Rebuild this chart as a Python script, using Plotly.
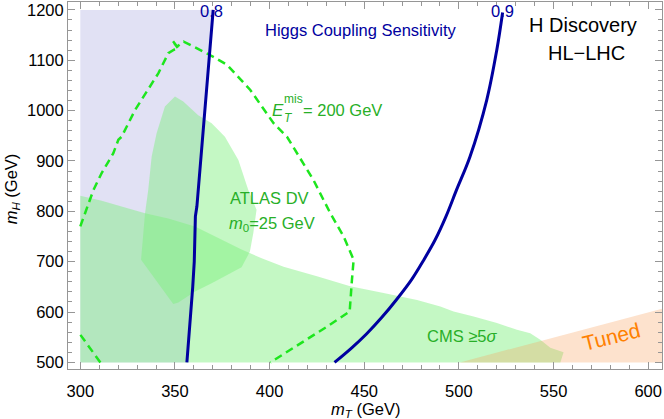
from plotly import graph_objects as go

# contour lines of Higgs coupling sensitivity
c08_x = [356.3, 357.4, 358.4, 359.4, 360.2, 360.8, 361.6, 362.5, 364.5, 366.8, 369.2, 370.2]
c08_y = [500, 550, 600, 650, 700, 790, 810, 850, 950, 1050, 1150, 1200]
c09_x = [434.3, 443.4, 451.3, 459.2, 467.1, 475.1, 481.2, 487.4, 493.2, 498.8, 505.9,
         514.7, 520.0, 523.1]
c09_y = [500, 529, 557, 589, 625, 665, 702, 743, 790, 843, 909,
         1021, 1120, 1195]

# missing E_T = 200 GeV contour (None = leaves the plot on the left)
met_x = [310.6, 305.0, 300.0, None, 300.0, 306.9, 311.3, 317.4, 320.1, 321.8, 328.9, 335.9,
         341.2, 346.5, 349.5, 352.0, 348.5, 351.0, 354.6, 368.7, 377.5, 389.8, 402.1, 409.2,
         423.2, 432.1, 439.1, 444.4, 443.5, 442.3, 430.3, 416.2, 400.4]
met_y = [500, 528, 555, None, 770, 842, 876, 915, 942, 948, 1001, 1041,
         1074, 1114, 1121, 1123, 1140, 1127, 1137, 1110, 1091, 1041, 975, 948,
         862, 796, 750, 704, 664, 601, 571, 538, 500]

# CMS >= 5 sigma region
cms_x = [300, 300.0, 311.3, 325.4, 334.2, 346.5, 360.6, 372.9, 385.2, 395.8, 407.4, 425.0,
         442.6, 460.2, 477.9, 490.2, 497.2, 507.8, 520.1, 530.7, 537.7, 543.0, 548.3, 555.3, 553.6]
cms_y = [500, 831, 821, 806, 796, 786, 770, 747, 724, 707, 690, 671,
         651, 638, 624, 611, 601, 591, 578, 565, 558, 545, 529, 520, 500]

# ATLAS DV region
atlas_x = [350.0, 354.4, 362.3, 369.4, 376.4, 383.5, 388.7, 393.1, 391.4, 389.6, 385.2,
           369.4, 360.6, 351.8, 349.1, 332.1, 334.2, 335.9, 337.7, 340.3, 344.7]
atlas_y = [1028, 1018, 991, 975, 948, 902, 843, 803, 757, 720, 689,
           657, 641, 619, 616, 704, 796, 843, 909, 955, 1008]

# tuned region
tuned_x = [500.5, 608, 608]
tuned_y = [500, 607, 500]

FONT = "Liberation Sans"
GREEN_TXT = "rgb(40,175,40)"
BLUE = "rgb(0,0,160)"

fig = go.Figure()

# lavender region left of the 0.8 contour
fig.add_trace(go.Scatter(
    x=[300] + c08_x + [300], y=[500] + c08_y + [1200],
    fill="toself", fillcolor="rgba(200,200,235,0.55)",
    line=dict(width=0), mode="lines", hoverinfo="skip"))

for xs, ys in [(cms_x, cms_y), (atlas_x, atlas_y)]:
    fig.add_trace(go.Scatter(
        x=xs, y=ys, fill="toself", fillcolor="rgba(125,240,125,0.45)",
        line=dict(width=0), mode="lines", hoverinfo="skip"))

fig.add_trace(go.Scatter(
    x=tuned_x, y=tuned_y, fill="toself", fillcolor="rgba(250,160,90,0.3)",
    line=dict(width=0), mode="lines", hoverinfo="skip"))

fig.add_trace(go.Scatter(
    x=met_x, y=met_y, mode="lines", connectgaps=False,
    line=dict(color="rgb(30,230,30)", width=2.5, dash="8px,5px")))

fig.add_trace(go.Scatter(x=c08_x, y=c08_y, mode="lines",
                         line=dict(color=BLUE, width=3)))
fig.add_trace(go.Scatter(x=c09_x, y=c09_y, mode="lines",
                         line=dict(color=BLUE, width=3, shape="spline")))


def label(x, y, text, color, size, **kw):
    fig.add_annotation(x=x, y=y, text=text, showarrow=False,
                       font=dict(family=FONT, size=size, color=color), **kw)


label(369.5, 1197, "0.8", BLUE, 16.5)
label(523.1, 1197, "0.9", BLUE, 16.5)
label(448.4, 1160, "Higgs Coupling Sensitivity", BLUE, 16.5)
label(565.7, 1170, "H Discovery", "black", 20)
label(567.3, 1114, "HL−LHC", "black", 20)

label(400.2, 1001, "<i>E</i>", GREEN_TXT, 17, xanchor="left")
label(406.8, 985, "<i>T</i>", GREEN_TXT, 12, xanchor="left")
label(406.8, 1024, "mis", GREEN_TXT, 12, xanchor="left")
label(416.8, 1001, "= 200 GeV", GREEN_TXT, 16.5, xanchor="left")

label(378.1, 827, "ATLAS DV", GREEN_TXT, 16.5, xanchor="left")
label(377.6, 774, "<i>m</i><sub>0</sub>=25 GeV", GREEN_TXT, 16.5, xanchor="left")
label(501.4, 552, "CMS ≥5<i>σ</i>", GREEN_TXT, 16.5)
label(580.7, 551, "Tuned", "rgb(255,128,0)", 21, textangle=-14)

# axis titles
label(0.5, -0.112, "<i>m</i><sub><i>T</i></sub> (GeV)", "black", 16.5,
      xref="paper", yref="paper", xanchor="center", yanchor="middle")
label(-0.094, 0.49, "<i>m</i><sub><i>H</i></sub> (GeV)", "black", 16.5,
      xref="paper", yref="paper", xanchor="center", yanchor="middle", textangle=-90)

axis_common = dict(
    showgrid=False, zeroline=False, showline=True, linecolor="rgb(150,150,150)",
    linewidth=1, mirror="ticks", ticks="inside", ticklen=7, tickcolor="rgb(150,150,150)",
    tickfont=dict(family=FONT, size=16.5, color="black"), automargin=False,
)
fig.update_xaxes(range=[293.5, 607.3], tickvals=[300, 350, 400, 450, 500, 550, 600],
                 minor=dict(dtick=10, ticks="inside", ticklen=4, tickcolor="rgb(150,150,150)"),
                 ticklabelstandoff=7, **axis_common)
fig.update_yaxes(range=[486.9, 1215.7], tickvals=[500, 600, 700, 800, 900, 1000, 1100, 1200],
                 minor=dict(dtick=20, ticks="inside", ticklen=4, tickcolor="rgb(150,150,150)"),
                 **axis_common)

fig.update_layout(
    width=664, height=419,
    margin=dict(l=68, r=2, t=2, b=50),
    plot_bgcolor="white", paper_bgcolor="white",
    showlegend=False,
    font=dict(family=FONT),
)

# drop the default page margin so the figure sits at the window corner
fig.write_html("out.html", config={"displayModeBar": False},
               post_script="document.body.style.margin='0';")
